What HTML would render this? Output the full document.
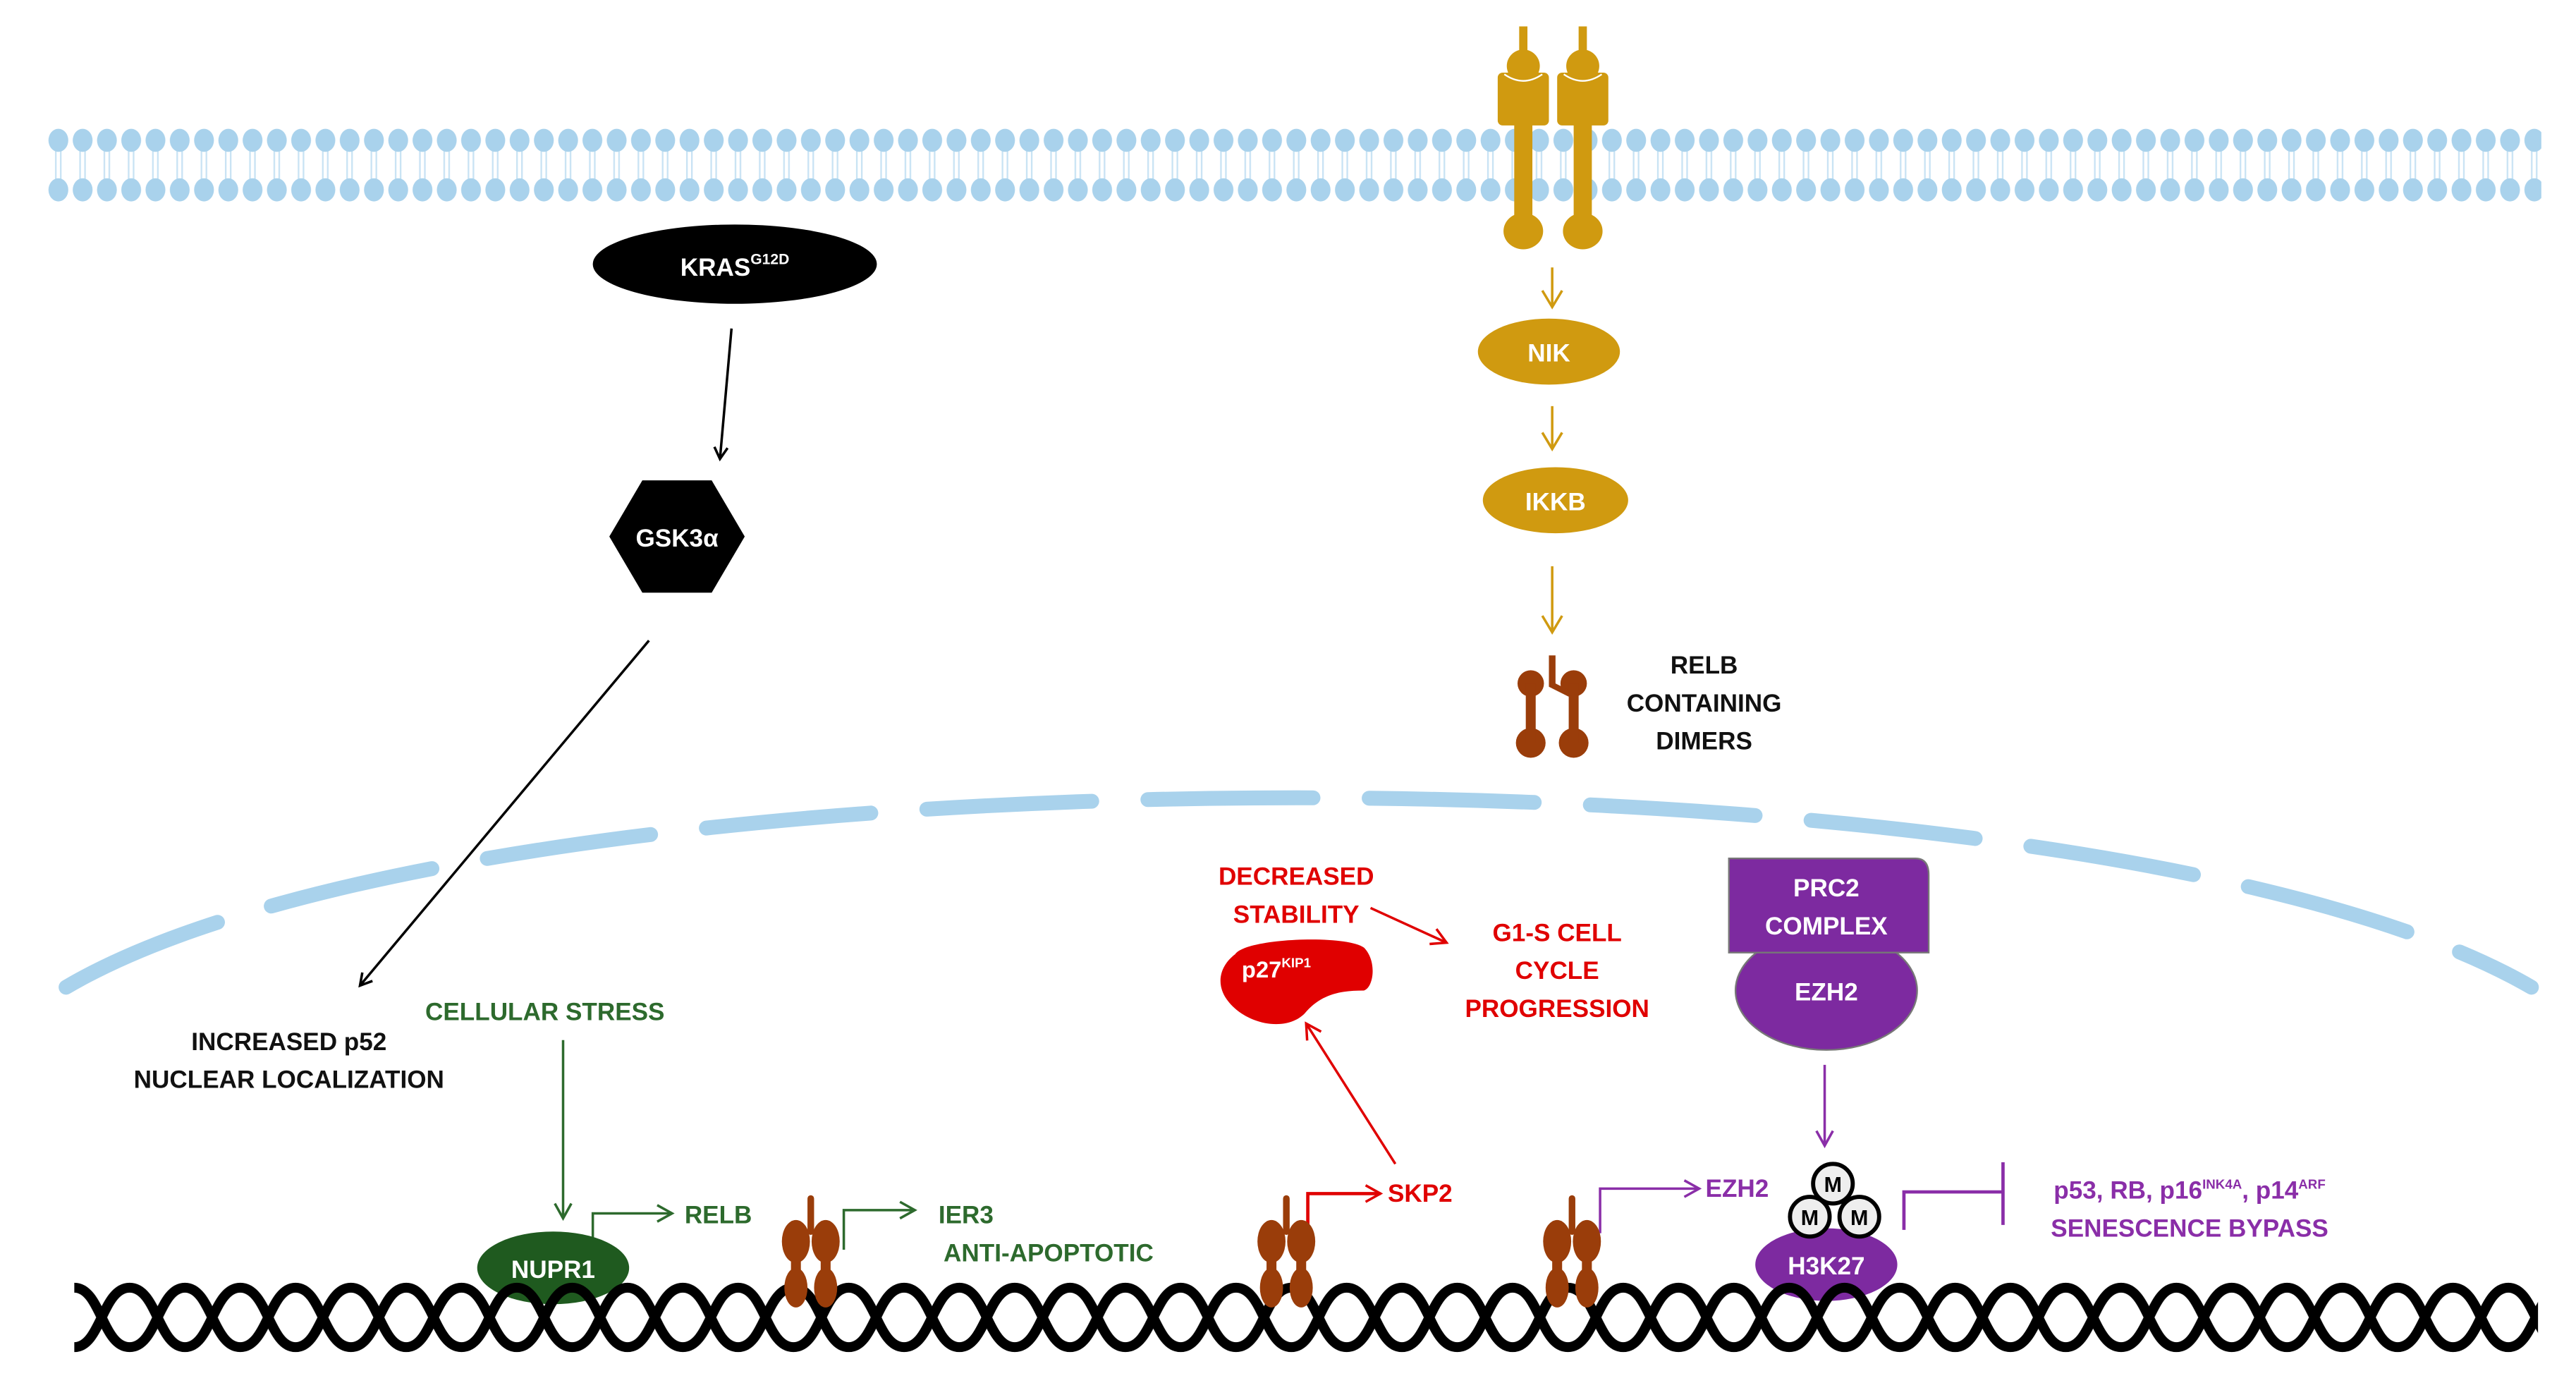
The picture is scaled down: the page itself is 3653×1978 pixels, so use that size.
<!DOCTYPE html>
<html><head><meta charset="utf-8"><style>
html,body{margin:0;padding:0;background:#fff;}
svg{display:block;}
text{font-family:"Liberation Sans Narrow","Liberation Sans",sans-serif;font-weight:bold;}
</style></head><body>
<svg width="3653" height="1978" viewBox="0 0 1560 845" preserveAspectRatio="none" xmlns="http://www.w3.org/2000/svg">
<defs>
<pattern id="lip" x="28" y="0" width="14.7" height="845" patternUnits="userSpaceOnUse">
<line x1="5.8" y1="88" x2="5.8" y2="111" stroke="#c9e3f4" stroke-width="1"/>
<line x1="8.8" y1="88" x2="8.8" y2="111" stroke="#c9e3f4" stroke-width="1"/>
<ellipse cx="7.35" cy="85" rx="6" ry="7" fill="#a9d2ec"/>
<ellipse cx="7.35" cy="115" rx="6" ry="7" fill="#a9d2ec"/>
</pattern>
<pattern id="dna" x="45" y="776" width="67" height="44" patternUnits="userSpaceOnUse">
<path d="M0,4 C16,4 17,40 33.5,40 C50,40 51,4 67,4" fill="none" stroke="#000" stroke-width="6"/>
<path d="M0,40 C16,40 17,4 33.5,4 C50,4 51,40 67,40" fill="none" stroke="#000" stroke-width="6"/>
</pattern>
<g id="dim">
<rect x="-12" y="-12" width="6" height="30" fill="#9a3d0a"/>
<rect x="6" y="-12" width="6" height="30" fill="#9a3d0a"/>
<ellipse cx="-9" cy="-10" rx="8.5" ry="13" fill="#9a3d0a"/>
<ellipse cx="9" cy="-10" rx="8.5" ry="13" fill="#9a3d0a"/>
<ellipse cx="-9" cy="18" rx="7" ry="12" fill="#9a3d0a"/>
<ellipse cx="9" cy="18" rx="7" ry="12" fill="#9a3d0a"/>
<rect x="-2" y="-38" width="4" height="24" rx="2" fill="#9a3d0a"/>
</g>
<marker id="ak" markerWidth="10" markerHeight="10" refX="8" refY="5" orient="auto" markerUnits="userSpaceOnUse"><path d="M1,1 L8,5 L1,9" fill="none" stroke="#000" stroke-width="1.5"/></marker>
<marker id="ag" markerWidth="14" markerHeight="14" refX="11" refY="7" orient="auto" markerUnits="userSpaceOnUse"><path d="M1,1 L11,7 L1,13" fill="none" stroke="#d09a10" stroke-width="1.5"/></marker>
<marker id="agr" markerWidth="12" markerHeight="12" refX="10" refY="6" orient="auto" markerUnits="userSpaceOnUse"><path d="M1,1 L10,6 L1,11" fill="none" stroke="#2d6a2d" stroke-width="1.5"/></marker>
<marker id="ar" markerWidth="12" markerHeight="12" refX="10" refY="6" orient="auto" markerUnits="userSpaceOnUse"><path d="M1,1 L10,6 L1,11" fill="none" stroke="#e00000" stroke-width="1.5"/></marker>
<marker id="ap" markerWidth="12" markerHeight="12" refX="10" refY="6" orient="auto" markerUnits="userSpaceOnUse"><path d="M1,1 L10,6 L1,11" fill="none" stroke="#8a2ea8" stroke-width="1.5"/></marker>
</defs>

<!-- membrane -->
<rect x="28" y="76" width="1511" height="50" fill="url(#lip)"/>

<!-- receptors -->
<g fill="#d09a10">
<rect x="920" y="16" width="5" height="120"/><rect x="956" y="16" width="5" height="120"/>
<circle cx="922.5" cy="40" r="10"/><circle cx="958.5" cy="40" r="10"/>
<rect x="907" y="44" width="31" height="32" rx="3"/><rect x="943" y="44" width="31" height="32" rx="3"/>
<rect x="917" y="70" width="11" height="68"/><rect x="953" y="70" width="11" height="68"/>
<ellipse cx="922.5" cy="140" rx="12" ry="11"/><ellipse cx="958.5" cy="140" rx="12" ry="11"/>
</g>
<path d="M911,45 Q922.5,53 934,45 M947,45 Q958.5,53 970,45" fill="none" stroke="#fff" stroke-width="1"/>

<!-- gold pathway -->
<line x1="940" y1="162" x2="940" y2="186" stroke="#d09a10" stroke-width="1.5" marker-end="url(#ag)"/>
<ellipse cx="938" cy="213" rx="43" ry="20" fill="#d09a10"/>
<text x="938" y="219" font-size="15" fill="#fff" text-anchor="middle">NIK</text>
<line x1="940" y1="246" x2="940" y2="272" stroke="#d09a10" stroke-width="1.5" marker-end="url(#ag)"/>
<ellipse cx="942" cy="303" rx="44" ry="20" fill="#d09a10"/>
<text x="942" y="309" font-size="15" fill="#fff" text-anchor="middle">IKKB</text>
<line x1="940" y1="343" x2="940" y2="383" stroke="#d09a10" stroke-width="1.5" marker-end="url(#ag)"/>
<!-- cytoplasmic dimer -->
<g fill="#9a3d0a">
<circle cx="927" cy="414" r="8"/><circle cx="953" cy="414" r="8"/>
<circle cx="927" cy="450" r="9"/><circle cx="953" cy="450" r="9"/>
<rect x="924" y="414" width="6" height="36"/><rect x="950" y="414" width="6" height="36"/>
<rect x="938" y="397" width="4" height="18"/>
<path d="M938,412 L950,418 L950,422 L938,416Z"/>
</g>
<text font-size="15" fill="#111" text-anchor="middle"><tspan x="1032" y="408">RELB</tspan><tspan x="1032" y="431">CONTAINING</tspan><tspan x="1032" y="454">DIMERS</tspan></text>

<!-- KRAS -->
<ellipse cx="445" cy="160" rx="86" ry="24" fill="#000"/>
<text x="445" y="167" font-size="15" fill="#fff" text-anchor="middle">KRAS<tspan font-size="9" dy="-7">G12D</tspan></text>
<line x1="443" y1="199" x2="436" y2="278" stroke="#000" stroke-width="1.5" marker-end="url(#ak)"/>
<polygon points="369,325 389,291 431,291 451,325 431,359 389,359" fill="#000"/>
<text x="410" y="331" font-size="15" fill="#fff" text-anchor="middle">GSK3α</text>
<line x1="393" y1="388" x2="218" y2="597" stroke="#000" stroke-width="1.5" marker-end="url(#ak)"/>

<!-- nuclear envelope -->
<path d="M40,598 C300,445 1270,445 1533,598" fill="none" stroke="#a9d2ec" stroke-width="9" stroke-linecap="round" stroke-dasharray="100 34"/>

<!-- left texts -->
<text font-size="15" fill="#111" text-anchor="middle"><tspan x="175" y="636">INCREASED p52</tspan><tspan x="175" y="659">NUCLEAR LOCALIZATION</tspan></text>
<text x="330" y="618" font-size="15" fill="#2d6a2d" text-anchor="middle">CELLULAR STRESS</text>
<line x1="341" y1="630" x2="341" y2="738" stroke="#2d6a2d" stroke-width="1.5" marker-end="url(#agr)"/>
<path d="M359,757 L359,735 L407,735" fill="none" stroke="#2d6a2d" stroke-width="1.5" marker-end="url(#agr)"/>
<text x="435" y="741" font-size="15" fill="#2d6a2d" text-anchor="middle">RELB</text>
<text x="585" y="741" font-size="15" fill="#2d6a2d" text-anchor="middle">IER3</text>
<text x="635" y="764" font-size="15" fill="#2d6a2d" text-anchor="middle">ANTI-APOPTOTIC</text>

<!-- red -->
<text font-size="15" fill="#e00000" text-anchor="middle"><tspan x="785" y="536">DECREASED</tspan><tspan x="785" y="559">STABILITY</tspan></text>
<line x1="830" y1="550" x2="876" y2="571" stroke="#e00000" stroke-width="1.5" marker-end="url(#ar)"/>
<text font-size="15" fill="#e00000" text-anchor="middle"><tspan x="943" y="570">G1-S CELL</tspan><tspan x="943" y="593">CYCLE</tspan><tspan x="943" y="616">PROGRESSION</tspan></text>
<path d="M748,578 C755,568 815,566 826,574 C834,582 832,598 826,600 C812,600 800,602 790,614 C778,626 752,620 742,604 C736,594 740,584 748,578Z" fill="#e00000"/>
<text x="752" y="592" font-size="14" fill="#fff">p27<tspan font-size="8" dy="-6">KIP1</tspan></text>
<line x1="845" y1="705" x2="791" y2="620" stroke="#e00000" stroke-width="1.5" marker-end="url(#ar)"/>
<path d="M792,747 L792,723 L836,723" fill="none" stroke="#e00000" stroke-width="2" marker-end="url(#ar)"/>
<text x="860" y="728" font-size="15" fill="#e00000" text-anchor="middle">SKP2</text>

<!-- purple -->
<ellipse cx="1106" cy="600" rx="55" ry="36" fill="#7d2aa0" stroke="#777" stroke-width="1"/>
<path d="M1047,520 L1160,520 Q1168,520 1168,530 L1168,577 L1047,577Z" fill="#7d2aa0" stroke="#777" stroke-width="1"/>
<text font-size="15" fill="#fff" text-anchor="middle"><tspan x="1106" y="543">PRC2</tspan><tspan x="1106" y="566">COMPLEX</tspan></text>
<text x="1106" y="606" font-size="15" fill="#fff" text-anchor="middle">EZH2</text>
<line x1="1105" y1="645" x2="1105" y2="694" stroke="#8a2ea8" stroke-width="1.5" marker-end="url(#ap)"/>
<ellipse cx="1106" cy="766" rx="43" ry="22" fill="#7d2aa0"/>
<text x="1106" y="772" font-size="15" fill="#fff" text-anchor="middle">H3K27</text>
<g fill="#eee" stroke="#000" stroke-width="2.5">
<circle cx="1110" cy="717" r="12"/><circle cx="1096" cy="737" r="12"/><circle cx="1126" cy="737" r="12"/>
</g>
<g font-size="13" fill="#000" text-anchor="middle" font-weight="normal">
<text x="1110" y="722">M</text><text x="1096" y="742">M</text><text x="1126" y="742">M</text>
</g>
<path d="M969,747 L969,720 L1029,720" fill="none" stroke="#8a2ea8" stroke-width="1.5" marker-end="url(#ap)"/>
<text x="1052" y="725" font-size="15" fill="#8a2ea8" text-anchor="middle">EZH2</text>
<path d="M1153,745 L1153,722 L1213,722 M1213,704 L1213,742" fill="none" stroke="#8a2ea8" stroke-width="2"/>
<text x="1326" y="726" font-size="15" fill="#8a2ea8" text-anchor="middle">p53, RB, p16<tspan font-size="8" dy="-6">INK4A</tspan><tspan dy="6">, p14</tspan><tspan font-size="8" dy="-6">ARF</tspan></text>
<text x="1326" y="749" font-size="15" fill="#8a2ea8" text-anchor="middle">SENESCENCE BYPASS</text>

<!-- NUPR1 -->
<ellipse cx="335" cy="768" rx="46" ry="22" fill="#1f5a1f"/>
<text x="335" y="774" font-size="15" fill="#fff" text-anchor="middle">NUPR1</text>

<!-- DNA -->
<rect x="45" y="776" width="1492" height="44" fill="url(#dna)"/>

<!-- bound dimers -->
<use href="#dim" x="491" y="762"/>
<use href="#dim" x="779" y="762"/>
<use href="#dim" x="952" y="762"/>
<path d="M511,757 L511,733 L554,733" fill="none" stroke="#2d6a2d" stroke-width="1.5" marker-end="url(#agr)"/>
</svg>
</body></html>
